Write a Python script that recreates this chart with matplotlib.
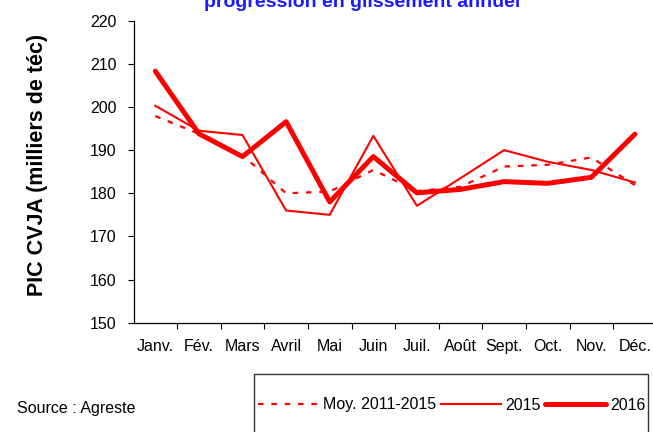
import matplotlib.pyplot as plt
from matplotlib.patches import Rectangle
from matplotlib.ticker import FixedLocator

plt.rcParams['font.family'] = ['Liberation Sans', 'DejaVu Sans']

# Monthly PIC CVJA (thousands of téc)
months = ['Janv.', 'Fév.', 'Mars', 'Avril', 'Mai', 'Juin',
          'Juil.', 'Août', 'Sept.', 'Oct.', 'Nov.', 'Déc.']
moy_2011_2015 = [197.9, 193.8, 188.8, 180.0, 180.4, 185.4,
                 180.5, 181.5, 186.2, 186.6, 188.3, 181.9]
val_2015 = [200.3, 194.5, 193.5, 176.0, 175.0, 193.3,
            177.1, 183.5, 190.0, 187.3, 185.4, 182.5]
val_2016 = [208.3, 193.8, 188.5, 196.6, 178.0, 188.5,
            180.1, 180.9, 182.7, 182.3, 183.7, 193.7]
y_ticks = [150, 160, 170, 180, 190, 200, 210, 220]

W, H = 653, 432
fig = plt.figure(figsize=(W / 100, H / 100), dpi=100)
ax = fig.add_axes([133.5 / W, 1 - 322.7 / H, 523.2 / W, 302.0 / H])

x = range(len(months))
red = '#ff0000'
l1, = ax.plot(x, moy_2011_2015, color=red, lw=1.6, linestyle=(0, (2.5, 3.5)))
l2, = ax.plot(x, val_2015, color=red, lw=1.5)
l3, = ax.plot(x, val_2016, color=red, lw=3.6, solid_capstyle='round')

ax.set_xlim(-0.5, len(months) - 0.5)
ax.set_ylim(150, 220)
ax.set_yticks(y_ticks)
ax.set_xticks(list(x))
ax.set_xticklabels(months)
ax.xaxis.set_minor_locator(FixedLocator([i + 0.5 for i in range(len(months) - 1)]))
ax.tick_params(axis='x', which='major', length=0, pad=12, labelsize=11.5)
ax.tick_params(axis='x', which='minor', length=4, width=0.8, direction='out')
ax.tick_params(axis='y', length=4, width=0.8, direction='out', pad=8, labelsize=11.5)

for s in ['top', 'right']:
    ax.spines[s].set_visible(False)
for s in ['left', 'bottom']:
    ax.spines[s].set_linewidth(0.9)
    ax.spines[s].set_color('black')

fig.text(38 / W, 1 - 165 / H, 'PIC CVJA (milliers de téc)', rotation=90,
         ha='center', va='center', fontsize=15.5, fontweight='bold')

# title cut off at top of the picture
fig.text(362 / W, 1 - 7 / H, 'progression en glissement annuel', ha='center',
         va='baseline', fontsize=14, fontweight='bold', color='#1a1aff')

fig.text(17 / W, 1 - 409 / H, 'Source : Agreste', ha='left', va='center', fontsize=11.5)

# legend box running past the bottom edge
fig.patches.append(Rectangle((254 / W, -0.05), (648 - 254) / W, (0.05 + 1 - 374 / H),
                             transform=fig.transFigure, fill=False,
                             edgecolor='#333333', lw=1.0))
fig.legend([l1, l2, l3], ['Moy. 2011-2015', '2015', '2016'], ncol=3,
           loc='center left', bbox_to_anchor=(258 / W, 1 - 405 / H),
           frameon=False, borderpad=0, borderaxespad=0, handlelength=3.8,
           handletextpad=0.25, columnspacing=0.3, fontsize=11.5)

fig.savefig('out.png', dpi=100)
